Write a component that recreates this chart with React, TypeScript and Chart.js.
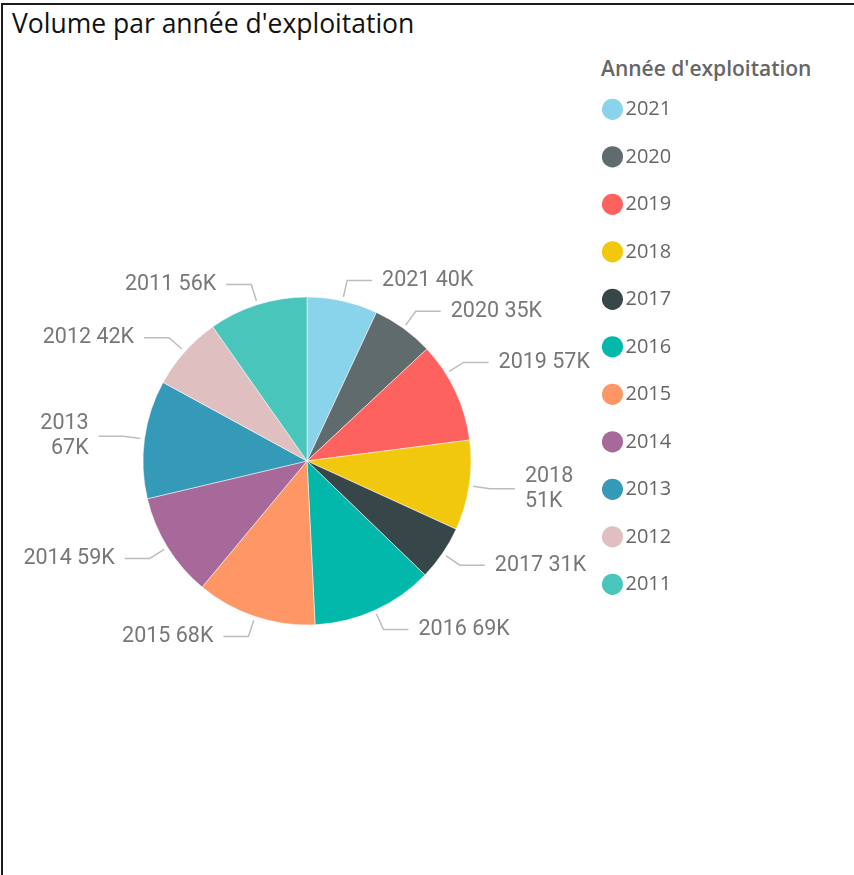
import React, { useEffect, useRef } from 'react';
import { Chart, registerables } from 'chart.js';

Chart.register(...registerables);

const chartTitle = "Volume par année d'exploitation";
const legendTitle = "Année d'exploitation";
const years = ['2021', '2020', '2019', '2018', '2017', '2016', '2015', '2014', '2013', '2012', '2011'];
const volumesK = [40, 35, 57, 51, 31, 69, 68, 59, 67, 42, 56];
const colors = ['#8AD4EB', '#5F6B6D', '#FD625E', '#F2C80F', '#374649', '#01B8AA', '#FE9666', '#A66999', '#3599B8', '#DFBFBF', '#4AC5BB'];

const LABEL_FONT = "21.5px Roboto";
const LEGEND_FONT_FAMILY = "'Open Sans'";

const leaderPlugin = {
  id: 'leaderLabels',
  afterDatasetsDraw(chart: any) {
    const ctx: CanvasRenderingContext2D = chart.ctx;
    const meta = chart.getDatasetMeta(0);
    const area = chart.chartArea;
    const maxX = area.right - 12;
    const minX = area.left + 2;
    ctx.save();
    ctx.font = LABEL_FONT;
    meta.data.forEach((arc: any, i: number) => {
      const { x, y, startAngle, endAngle, outerRadius } = arc.getProps(['x', 'y', 'startAngle', 'endAngle', 'outerRadius'], true);
      const label = `${years[i]} ${volumesK[i]}K`;
      const w = ctx.measureText(label).width;
      const mid = (startAngle + endAngle) / 2;
      const right = Math.cos(mid) >= 0;
      const elbowR = outerRadius + 21;
      const startR = outerRadius + 4;
      const textXFor = (a: number) => {
        const ex = x + elbowR * Math.cos(a);
        return right ? ex + 35 : ex - 35;
      };
      const fits = (a: number) => {
        const tx = textXFor(a);
        return right ? tx + w <= maxX : tx - w >= minX;
      };
      let angle = mid;
      let wrap = false;
      if (!fits(mid)) {
        const span = endAngle - startAngle;
        const lo = startAngle + 0.2 * span;
        const hi = endAngle - 0.2 * span;
        const step = Math.PI / 720;
        let found: number | null = null;
        for (let d = step; d <= span; d += step) {
          if (mid - d >= lo && fits(mid - d)) { found = mid - d; break; }
          if (mid + d <= hi && fits(mid + d)) { found = mid + d; break; }
          if (mid - d < lo && mid + d > hi) break;
        }
        if (found !== null) angle = found; else wrap = true;
      }
      const c = Math.cos(angle), s = Math.sin(angle);
      const sx = x + startR * c, sy = y + startR * s;
      const ex = x + elbowR * c, ey = y + elbowR * s;
      const hx = right ? ex + 25 : ex - 25;
      const tx = right ? ex + 35 : ex - 35;
      ctx.beginPath();
      ctx.moveTo(sx, sy);
      ctx.lineTo(ex, ey);
      ctx.lineTo(hx, ey);
      ctx.strokeStyle = '#bdbdbd';
      ctx.lineWidth = 1.5;
      ctx.stroke();
      ctx.fillStyle = '#777777';
      ctx.textBaseline = 'middle';
      ctx.textAlign = right ? 'left' : 'right';
      if (wrap) {
        ctx.fillText(years[i], tx, ey - 12.5);
        ctx.fillText(`${volumesK[i]}K`, tx, ey + 12.5);
      } else {
        ctx.fillText(label, tx, ey);
      }
    });
    ctx.restore();
  },
};

export default function App() {
  const ref = useRef<HTMLCanvasElement>(null);
  useEffect(() => {
    const canvas = ref.current!;
    const mctx = canvas.getContext('2d')!;
    mctx.font = `20px ${LEGEND_FONT_FAMILY}`;
    const textW = Math.max(...years.map((t) => mctx.measureText(t).width));
    const legendPadding = 7.5;
    const boxWidth = 6;
    const legendWidth = legendPadding + boxWidth + 10 + textW + 10;
    const legendLeft = 602;
    const rightPad = 854 - legendLeft - legendWidth;

    const chart = new Chart(canvas, {
      type: 'pie',
      data: {
        labels: years,
        datasets: [
          {
            data: volumesK,
            backgroundColor: colors,
            borderColor: '#ffffff',
            borderWidth: 0.5,
            radius: 164,
          } as any,
        ],
      },
      options: {
        responsive: false,
        animation: false,
        events: [],
        layout: { padding: { top: 91.8, bottom: 44.8, left: 12, right: rightPad } },
        plugins: {
          tooltip: { enabled: false },
          legend: {
            position: 'right',
            align: 'start',
            labels: {
              usePointStyle: true,
              pointStyle: 'circle',
              boxWidth: boxWidth,
              boxHeight: 15,
              padding: legendPadding,
              color: '#666666',
              font: { family: LEGEND_FONT_FAMILY, size: 20, lineHeight: 2 },
              generateLabels: () =>
                years.map((yr, i) => ({
                  text: [yr] as any,
                  fillStyle: colors[i],
                  strokeStyle: colors[i],
                  lineWidth: 0,
                  pointStyle: 'circle',
                  hidden: false,
                  index: i,
                  fontColor: '#666666',
                })) as any,
            },
          },
        },
      },
      plugins: [leaderPlugin as any],
    });
    return () => chart.destroy();
  }, []);

  return (
    <div style={{ position: 'fixed', left: 0, top: 0, width: 854, height: 875, overflow: 'hidden', background: '#ffffff' }}>
      <div
        style={{
          position: 'absolute',
          left: 1,
          top: 3,
          width: 853,
          height: 872,
          borderTop: '2px solid #1c1c1c',
          borderLeft: '2px solid #1c1c1c',
          boxSizing: 'border-box',
        }}
      />
      <div
        style={{
          position: 'absolute',
          left: 12,
          top: 5,
          fontFamily: "'Open Sans'",
          fontSize: 26.5,
          lineHeight: 'normal',
          color: '#111111',
          whiteSpace: 'nowrap',
        }}
      >
        {chartTitle}
      </div>
      <div
        style={{
          position: 'absolute',
          left: 601,
          top: 54,
          fontFamily: LEGEND_FONT_FAMILY,
          fontSize: 21,
          fontWeight: 600,
          lineHeight: 'normal',
          color: '#666666',
          whiteSpace: 'nowrap',
        }}
      >
        {legendTitle}
      </div>
      <canvas ref={ref} width={854} height={875} style={{ position: 'absolute', left: 0, top: 0 }} />
    </div>
  );
}
